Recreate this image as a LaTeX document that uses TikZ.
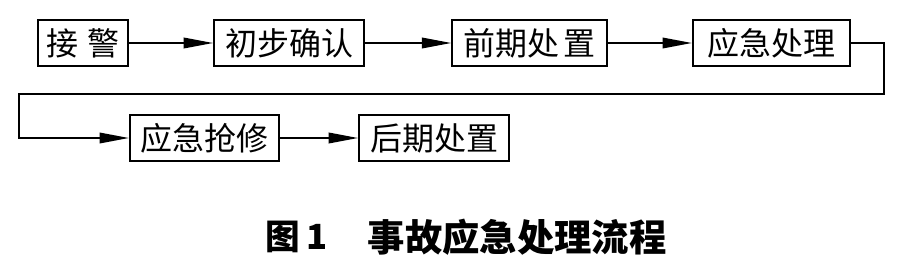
\documentclass[tikz,border=0pt]{standalone}
\usepackage{fontspec}
\newfontfamily\cjk{Noto Sans CJK SC}
\usetikzlibrary{arrows.meta}
\begin{document}
\begin{tikzpicture}[x=0.75pt,y=-0.75pt]
	\tikzset{stepbox/.style={draw, line width=1.5pt, minimum height=34.5pt, inner sep=0pt, font=\cjk\fontsize{24}{24}\selectfont},
		flow/.style={line width=1.1pt, -{Triangle[length=22pt,width=8pt]}}}
	\useasboundingbox (0,0) rectangle (901,261);
	\node[stepbox, minimum width=67.5pt]  (b1) at (83,43)    {接\hspace{0.3em}警};
	\node[stepbox, minimum width=112.5pt] (b2) at (289,43)   {初步确认};
	\node[stepbox, minimum width=116pt]   (b3) at (529.5,43) {前期处\hspace{0.12em}置};
	\node[stepbox, minimum width=118pt]   (b4) at (771.5,43) {应急处理};
	\node[stepbox, minimum width=112pt]   (b5) at (204.5,138) {应急抢修};
	\node[stepbox, minimum width=112.5pt] (b6) at (434,138)  {后期处置};
	\coordinate (c1) at (884,94);
	\coordinate (c2) at (19,94);
	\draw[flow] (b1) -- (b2);
	\draw[flow] (b2) -- (b3);
	\draw[flow] (b3) -- (b4);
	\draw[flow] (b4.east) -| (c1) -- (c2) |- (b5.west);
	\draw[flow] (b5) -- (b6);
	\node[anchor=west, font=\cjk\bfseries\fontsize{26}{26}\selectfont] (fig) at (261,237) {图\,1};
	\node[anchor=west, font=\cjk\bfseries\fontsize{28}{28}\selectfont] (title) at (363,237) {事故应急处理流程};
\end{tikzpicture}
\end{document}
